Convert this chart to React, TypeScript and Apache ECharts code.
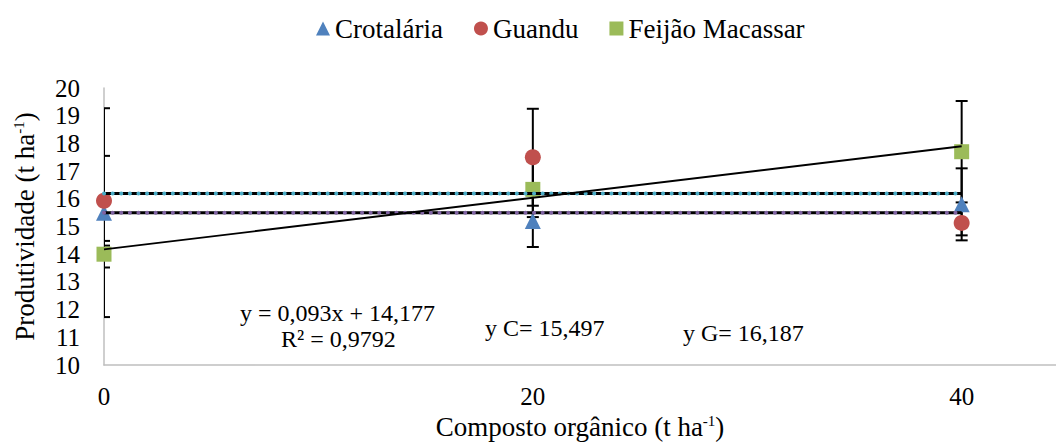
import React, { useRef, useEffect } from "react"
import * as echarts from "echarts"

// doses de composto (t ha-1)
const doses = [0, 20, 40]

const crotalaria = [15.5, 15.2, 15.8]
const crotalariaErr = [3.77, 0.94, 1.3]
const guandu = [15.93, 17.5, 15.13]
const guanduErr = [1.62, 1.75, 0.45]
const feijao = [14.0, 16.34, 17.7]
const feijaoErr = [0.48, 1.0, 1.83]

// linhas de tendência
const feijaoSlope = 0.093
const feijaoIntercept = 14.177
const crotalariaMean = 15.497
const guanduMean = 16.187

const yTicks = [10, 20]
const xTicks = [0, 40]

const FONT = "'Liberation Serif', 'Times New Roman', serif"

const t = { fontSize: 27, color: "#000", fontFamily: FONT }
const tick = { fontSize: 25, color: "#000", fontFamily: FONT }
const sup = { fontSize: 15, color: "#000", fontFamily: FONT, verticalAlign: "top", padding: [0, 0, 10, 0] }

export default function App() {
  const chartRef = useRef<HTMLDivElement>(null)

  useEffect(() => {
    if (!chartRef.current) return
    const chart = echarts.init(chartRef.current, null, { renderer: "svg" })

    const errData: number[][] = []
    ;[
      [crotalaria, crotalariaErr],
      [guandu, guanduErr],
      [feijao, feijaoErr],
    ].forEach(([vals, errs]) => {
      doses.forEach((d, i) => errData.push([d, vals[i] - errs[i], vals[i] + errs[i]]))
    })

    const pts = (vals: number[]) => doses.map((d, i) => [d, vals[i]])
    const xEnd = doses[doses.length - 1]

    const flatLine = (name: string, v: number, color: string) => [
      {
        name: name + "-base",
        type: "line",
        data: [[doses[0], v], [xEnd, v]],
        symbol: "none",
        lineStyle: { color: "#000", width: 3 },
        z: 5,
        silent: true,
      },
      {
        name: name + "-dots",
        type: "line",
        data: [[doses[0], v], [xEnd, v]],
        symbol: "none",
        lineStyle: { color, width: 4, type: [0.1, 8.5], cap: "round" },
        z: 6,
        silent: true,
      },
    ]

    const note = (text: string, x: number, y: number) => ({
      type: "text",
      x,
      y,
      style: { text, fontSize: 24, fill: "#000", fontFamily: FONT, verticalAlign: "middle" },
    })

    const option = {
      animation: false,
      textStyle: { fontFamily: FONT },
      legend: {
        top: 10,
        left: 311,
        itemWidth: 14,
        itemHeight: 14,
        itemGap: 31,
        textStyle: t,
        data: [
          { name: "Crotalária", icon: "triangle" },
          { name: "Guandu", icon: "circle" },
          { name: "Feijão Macassar", icon: "rect" },
        ],
      },
      grid: { left: 104, right: 0, top: 88, bottom: 83 },
      xAxis: {
        type: "value",
        min: xTicks[0],
        max: 44.4,
        interval: 20,
        name: "{t|Composto orgânico (t ha}{sup|-1}{t|)}",
        nameLocation: "middle",
        nameGap: 45,
        nameTextStyle: { ...t, rich: { t, sup } },
        axisLine: { lineStyle: { color: "#BFBFBF", width: 1.5 } },
        axisTick: { show: false },
        splitLine: { show: false },
        axisLabel: { ...tick, margin: 19, showMaxLabel: false },
      },
      yAxis: {
        type: "value",
        min: yTicks[0],
        max: yTicks[1],
        interval: 1,
        name: "{t|Produtividade (t ha}{sup|-1}{t|)}",
        nameLocation: "middle",
        nameGap: 66,
        nameTextStyle: { ...t, rich: { t, sup } },
        axisLine: { show: true, lineStyle: { color: "#BFBFBF", width: 1.5 } },
        axisTick: { show: false },
        splitLine: { show: false },
        axisLabel: { ...tick, margin: 24 },
      },
      series: [
        {
          name: "erro",
          type: "custom",
          clip: true,
          z: 2,
          silent: true,
          data: errData,
          renderItem: (_params: any, api: any) => {
            const x = api.value(0)
            const lo = api.coord([x, api.value(1)])
            const hi = api.coord([x, api.value(2)])
            const w = 6
            const style = { stroke: "#000", lineWidth: 2 }
            return {
              type: "group",
              children: [
                { type: "line", shape: { x1: lo[0], y1: lo[1], x2: hi[0], y2: hi[1] }, style },
                { type: "line", shape: { x1: hi[0] - w, y1: hi[1], x2: hi[0] + w, y2: hi[1] }, style },
                { type: "line", shape: { x1: lo[0] - w, y1: lo[1], x2: lo[0] + w, y2: lo[1] }, style },
              ],
            }
          },
        },
        {
          name: "Crotalária",
          type: "scatter",
          symbol: "triangle",
          symbolSize: 16,
          itemStyle: { color: "#4F81BD", opacity: 1 },
          data: pts(crotalaria),
          z: 3,
        },
        {
          name: "Guandu",
          type: "scatter",
          symbol: "circle",
          symbolSize: 16,
          itemStyle: { color: "#C0504D", opacity: 1 },
          data: pts(guandu),
          z: 3,
        },
        {
          name: "Feijão Macassar",
          type: "scatter",
          symbol: "rect",
          symbolSize: 15,
          itemStyle: { color: "#9BBB59", opacity: 1 },
          data: pts(feijao),
          z: 3,
        },
        {
          name: "tendência feijão",
          type: "line",
          data: [
            [doses[0], feijaoIntercept + feijaoSlope * doses[0]],
            [xEnd, feijaoIntercept + feijaoSlope * xEnd],
          ],
          symbol: "none",
          lineStyle: { color: "#000", width: 1.8 },
          z: 7,
          silent: true,
        },
        ...flatLine("guandu", guanduMean, "#4BACC6"),
        ...flatLine("crotalaria", crotalariaMean, "#8064A2"),
      ],
      graphic: [
        note("y = 0,093x + 14,177", 240, 313),
        note("R² = 0,9792", 281, 339),
        note("y C= 15,497", 485, 328),
        note("y G= 16,187", 683, 333),
      ],
    }

    chart.setOption(option as any)
    return () => chart.dispose()
  }, [])

  return (
    <div
      ref={chartRef}
      style={{ position: "absolute", left: 0, top: 0, width: 1056, height: 448, background: "#fff" }}
    />
  )
}
